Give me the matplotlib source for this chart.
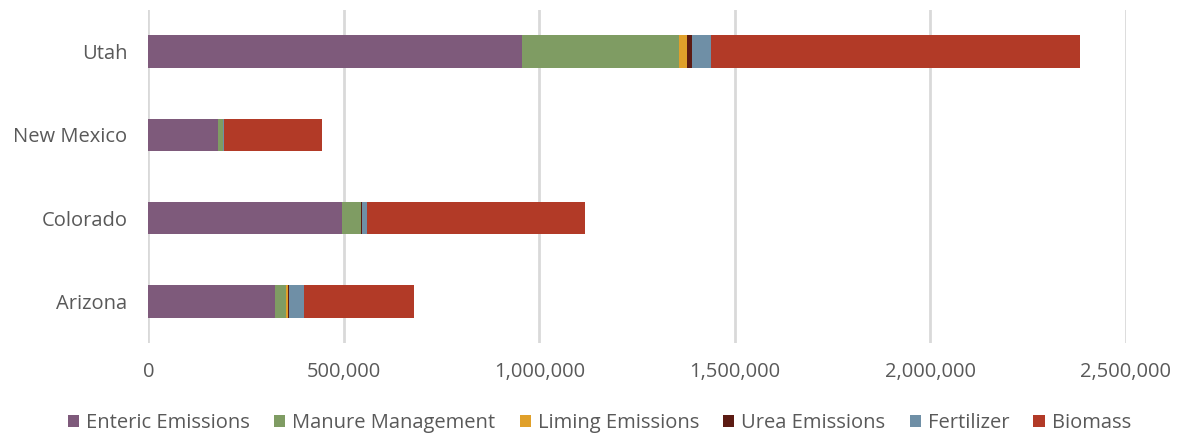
import matplotlib.pyplot as plt
from matplotlib.ticker import FuncFormatter
import numpy as np

states = ["Arizona", "Colorado", "New Mexico", "Utah"]
series_names = ["Enteric Emissions", "Manure Management", "Liming Emissions",
                "Urea Emissions", "Fertilizer", "Biomass"]
enteric = [325000, 495000, 178000, 955000]
manure = [28000, 48000, 12000, 402000]
liming = [5000, 2000, 1000, 20000]
urea = [1000, 1000, 500, 13000]
fertilizer = [38000, 14000, 1500, 49000]
biomass = [282000, 557000, 251000, 943000]
colors = ["#7E5A7B", "#7F9C63", "#E0A02A", "#5C1B13", "#6F8FA6", "#B23A27"]

plt.rcParams['font.family'] = ['Open Sans', 'DejaVu Sans']

fig = plt.figure(figsize=(11.8, 4.36), dpi=100)
ax = fig.add_axes([0.1258, 0.2133, 0.954 - 0.1258, 0.977 - 0.2133])

y = np.arange(len(states))
left = np.zeros(len(states))
for name, vals, c in zip(series_names, [enteric, manure, liming, urea, fertilizer, biomass], colors):
    ax.barh(y, vals, left=left, height=0.39, color=c, label=name, zorder=3)
    left += np.array(vals)

ax.set_xlim(0, 2500000)
ax.set_ylim(-0.5, len(states) - 0.5)
ax.set_yticks(y)
ax.set_yticklabels(states)
ax.set_xticks(np.arange(0, 2500001, 500000))
ax.xaxis.set_major_formatter(FuncFormatter(lambda v, p: f"{int(v):,}"))
ax.grid(axis='x', color='#D9D9D9', linewidth=2, zorder=0)
ax.tick_params(axis='both', length=0, labelsize=14.5, colors='#595959')
ax.tick_params(axis='x', pad=14)
ax.tick_params(axis='y', pad=15)
for s in ax.spines.values():
    s.set_visible(False)

leg = fig.legend(loc='center', bbox_to_anchor=(0.508, 0.03), ncol=6, frameon=False,
                 fontsize=14.5, handlelength=0.55, handleheight=0.55, handletextpad=0.35,
                 columnspacing=1.2)
for t in leg.get_texts():
    t.set_color('#595959')

fig.savefig("out.png", dpi=100)
